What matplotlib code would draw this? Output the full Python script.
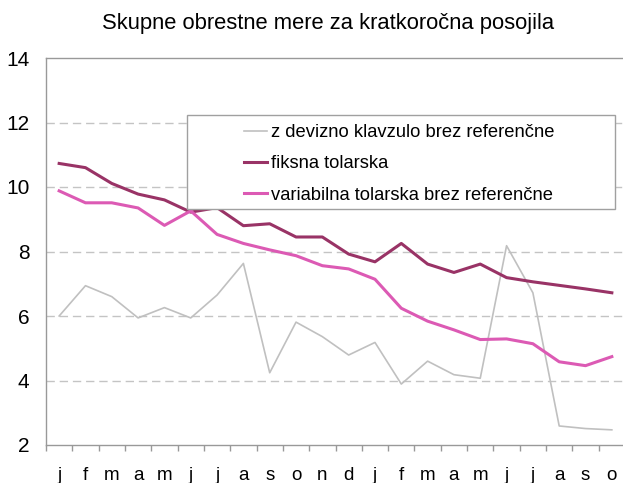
import numpy as np
import matplotlib
matplotlib.use("Agg")
import matplotlib.pyplot as plt
from matplotlib.patches import Rectangle

plt.rcParams['font.family'] = ['Liberation Sans', 'DejaVu Sans']

months = ['j', 'f', 'm', 'a', 'm', 'j', 'j', 'a', 's', 'o', 'n', 'd',
          'j', 'f', 'm', 'a', 'm', 'j', 'j', 'a', 's', 'o']

devizna = [6.00, 6.94, 6.60, 5.94, 6.26, 5.94, 6.65, 7.63, 4.24, 5.81, 5.36,
           4.79, 5.18, 3.89, 4.60, 4.18, 4.07, 8.18, 6.72, 2.59, 2.51, 2.47]
fiksna = [10.73, 10.60, 10.11, 9.78, 9.60, 9.22, 9.36, 8.80, 8.86, 8.45, 8.45,
          7.92, 7.68, 8.25, 7.61, 7.35, 7.61, 7.19, 7.06, 6.95, 6.84, 6.72]
variabilna = [9.88, 9.51, 9.51, 9.35, 8.81, 9.26, 8.53, 8.25, 8.05, 7.87, 7.56,
              7.46, 7.14, 6.24, 5.84, 5.57, 5.27, 5.29, 5.14, 4.58, 4.46, 4.74]

labels = ['z devizno klavzulo brez referenčne',
          'fiksna tolarska',
          'variabilna tolarska brez referenčne']
colors = ['#C0C0C0', '#993366', '#DC5AB4']

fig = plt.figure(figsize=(6.23, 4.83), dpi=100)
ax = fig.add_axes([46 / 623, 1 - 445 / 483, 579 / 623, 387 / 483])

x = np.arange(len(months))
ax.plot(x, devizna, color=colors[0], lw=1.2, label=labels[0], zorder=3)
ax.plot(x, fiksna, color=colors[1], lw=2.2, label=labels[1], zorder=3)
ax.plot(x, variabilna, color=colors[2], lw=2.2, label=labels[2], zorder=3)

ax.set_xlim(-0.5, len(months) - 0.5)
ax.set_ylim(2, 14)
ax.set_yticks([2, 4, 6, 8, 10, 12, 14])
ax.set_xticks(x)
ax.set_xticklabels(months)
ax.set_xticks(np.arange(len(months) + 1) - 0.5, minor=True)
ax.tick_params(axis='x', which='major', length=0, pad=16, labelsize=13.5)
ax.tick_params(axis='x', which='minor', length=4, color='#999999', width=1)
ax.tick_params(axis='y', length=0, pad=12, labelsize=15)

for y in [4, 6, 8, 10, 12]:
    ax.axhline(y, color='#C4C4C4', lw=1, ls=(0, (6, 3.5)), zorder=1)

for side in ['left', 'bottom', 'top', 'right']:
    ax.spines[side].set_color('#999999')
    ax.spines[side].set_linewidth(1)

ax.set_title('Skupne obrestne mere za kratkoročna posojila',
             fontsize=15.8, pad=21, x=(328 - 46) / 579)

# legend box
box = Rectangle((187 / 623, 1 - 209 / 483), 428 / 623, 94 / 483,
                transform=fig.transFigure, facecolor='white',
                edgecolor='#A0A0A0', lw=1, zorder=4)
ax.add_patch(box)
leg = ax.legend(loc='upper left', bbox_to_anchor=(244 / 623, 1 - 124 / 483),
                bbox_transform=fig.transFigure, frameon=False, fontsize=13.25,
                handlelength=1.25, handletextpad=0.2, labelspacing=0.78,
                borderaxespad=0, borderpad=0)
leg.set_zorder(5)

fig.savefig('out.png', dpi=100)
